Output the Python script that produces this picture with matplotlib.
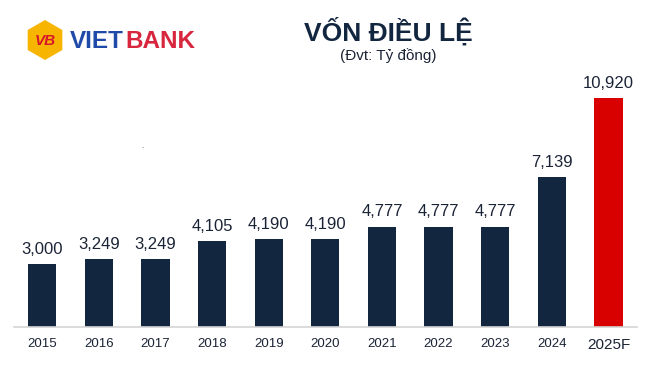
import numpy as np
import matplotlib.pyplot as plt
from matplotlib.patches import RegularPolygon

years = ['2015', '2016', '2017', '2018', '2019', '2020', '2021', '2022', '2023', '2024', '2025F']
capital = [3000, 3249, 3249, 4105, 4190, 4190, 4777, 4777, 4777, 7139, 10920]
labels = ['3,000', '3,249', '3,249', '4,105', '4,190', '4,190', '4,777', '4,777', '4,777', '7,139', '10,920']

navy = '#12263f'
red = '#d90000'
txt = '#1b2436'

plt.rcParams['font.family'] = ['Liberation Sans', 'DejaVu Sans']

fig = plt.figure(figsize=(6.52, 3.68), dpi=100)
ax = fig.add_axes([0.0215, 0.1114, 0.955, 0.7255])

x = np.arange(len(years))
colors = [navy] * (len(years) - 1) + [red]
ax.bar(x, capital, width=0.5, color=colors)
for xi, v, lab in zip(x, capital, labels):
    ax.text(xi, v + 350, lab, ha='center', va='bottom', fontsize=12, color=txt)

ax.set_xlim(-0.5, 10.5)
ax.set_ylim(0, 12730)
ax.set_xticks(x)
ax.set_xticklabels(years, fontsize=9.5, color=txt)
ax.get_xticklabels()[-1].set_fontsize(11)
ax.tick_params(axis='x', length=0, pad=8)
ax.set_yticks([])
for s in ['top', 'right', 'left']:
    ax.spines[s].set_visible(False)
ax.spines['bottom'].set_color('#d4d4d4')
ax.spines['bottom'].set_linewidth(1.2)

# title
fig.text(0.595, 0.915, 'VỐN ĐIỀU LỆ', ha='center', va='center', fontsize=19,
         fontweight='bold', color=navy)
fig.text(0.595, 0.85, '(Đvt: Tỷ đồng)', ha='center', va='center', fontsize=11, color=txt)

# logo
hexagon = RegularPolygon((0.45, 3.68 - 0.40), numVertices=6, radius=0.2,
                         orientation=0, facecolor='#f7b500', edgecolor='none',
                         transform=fig.dpi_scale_trans)
fig.patches.append(hexagon)
fig.text(45 / 652, 1 - 41 / 368, 'VB', ha='center', va='center', fontsize=11,
         fontweight='bold', style='italic', color='#d7142b')
viet = fig.text(70 / 652, 1 - 41 / 368, 'VIET', ha='left', va='center', fontsize=17.5,
                fontweight='bold', color='#1f4aa8')
fig.canvas.draw()
bb = viet.get_window_extent()
fig.text(bb.x1 / 652 + 0.002, 1 - 41 / 368, 'BANK', ha='left', va='center', fontsize=17.5,
         fontweight='bold', color='#d7263d')

fig.text(142 / 652, 1 - 146 / 368, '.', ha='center', va='center', fontsize=6, color='#555555')

fig.savefig('out.png', dpi=100)
